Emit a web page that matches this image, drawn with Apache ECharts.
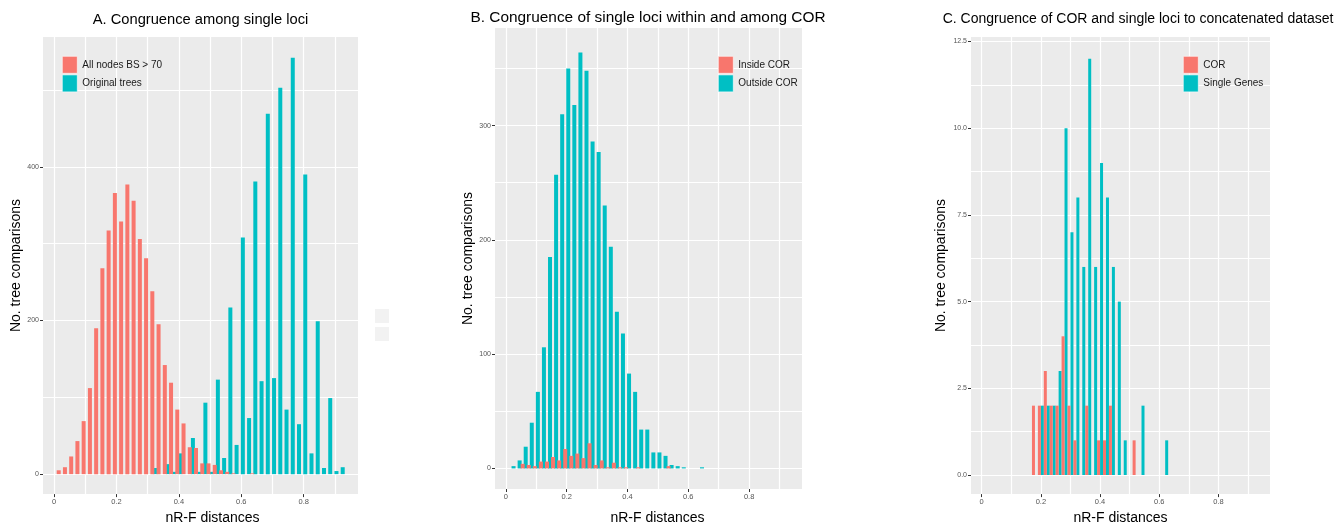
<!DOCTYPE html>
<html><head><meta charset="utf-8">
<script src="https://cdn.jsdelivr.net/npm/echarts@6/dist/echarts.min.js"></script>
<style>html,body{margin:0;padding:0;background:#fff}#c{width:1338px;height:530px}</style>
</head><body><div id="c"></div>
<script>
// ---------- data ----------
const xTickValues = [0, 0.2, 0.4, 0.6, 0.8];
const xGridValues = [0, 0.1, 0.2, 0.3, 0.4, 0.5, 0.6, 0.7, 0.8, 0.9];

// Panel A: Congruence among single loci (bin centres, counts)
const aRedBins = [0.02,0.04,0.06,0.08,0.10,0.12,0.14,0.16,0.18,0.20,0.22,0.24,0.26,0.28,0.30,0.32,0.34,0.36,0.38,0.40,0.42,0.44,0.46,0.48,0.50,0.52,0.54,0.56,0.58,0.64];
const aRedCounts = [5,9,23,43,69,112,190,268,317,366,329,377,356,306,281,238,195,142,119,84,66,35,34,14,14,12,5,3,1,1];
const aTealBins = [0.32,0.36,0.38,0.40,0.44,0.46,0.48,0.50,0.52,0.54,0.56,0.58,0.60,0.62,0.64,0.66,0.68,0.70,0.72,0.74,0.76,0.78,0.80,0.82,0.84,0.86,0.88,0.90,0.92];
const aTealCounts = [8,13,3,27,47,3,93,3,123,21,217,38,308,73,381,121,469,125,503,84,542,65,390,27,199,8,99,4,9];
const aYGrid = [0,100,200,300,400,500];
const aYTicks = [0,200,400];

// Panel B: Congruence of single loci within and among COR
const bRedBins = [0.06,0.08,0.10,0.12,0.14,0.16,0.18,0.20,0.22,0.24,0.26,0.28,0.30,0.32,0.34,0.36,0.38,0.40,0.44,0.54];
const bRedCounts = [4,3,2,6,6,10,7,17,11,13,9,22,3,7,1,5,1,1,1,2];
const bTealBins = [0.02,0.04,0.06,0.08,0.10,0.12,0.14,0.16,0.18,0.20,0.22,0.24,0.26,0.28,0.30,0.32,0.34,0.36,0.38,0.40,0.42,0.44,0.46,0.48,0.50,0.52,0.54,0.56,0.58,0.64];
const bTealCounts = [2,7,19,40,67,106,185,257,310,350,318,364,348,286,277,230,194,137,118,83,67,34,34,14,14,11,3,2,1,1];
const bYGrid = [0,50,100,150,200,250,300,350];
const bYTicks = [0,100,200,300];

// Panel C: Congruence of COR and single loci to concatenated dataset
const cRedBins = [0.18,0.20,0.22,0.24,0.26,0.28,0.30,0.32,0.36,0.40,0.42,0.44,0.52];
const cRedCounts = [2,2,3,2,2,4,2,1,2,1,1,2,1];
const cTealBins = [0.20,0.22,0.24,0.26,0.28,0.30,0.32,0.34,0.36,0.38,0.40,0.42,0.44,0.46,0.48,0.54,0.62];
const cTealCounts = [2,2,2,3,10,7,8,6,12,6,9,8,6,5,1,2,1];
const cYGrid = [0,1.25,2.5,3.75,5,6.25,7.5,8.75,10,11.25,12.5];
const cYTicks = [0,2.5,5,7.5,10,12.5];

// ---------- styling / layout ----------
const RED = '#F8766D', TEAL = '#00BFC4';
const FONT = 'Liberation Sans, Arial, Helvetica, sans-serif';
const DODGE = 0.005;
const panels = [
  {grid:{left:43, top:37, width:315, height:458}, xr:[-0.0353,0.974], yr:[-26,569], yGrid:aYGrid, yTicks:aYTicks, yFmt:v=>String(v),
   red:['All nodes BS > 70', aRedBins, aRedCounts], teal:['Original trees', aTealBins, aTealCounts], bw:4, xGap:16, xShift:24, yGap:20, legLeft:62},
  {grid:{left:495, top:28, width:307, height:461}, xr:[-0.036,0.974], yr:[-18,385.4], yGrid:bYGrid, yTicks:bYTicks, yFmt:v=>String(v),
   red:['Inside COR', bRedBins, bRedCounts], teal:['Outside COR', bTealBins, bTealCounts], bw:4, xGap:22, xShift:18, yGap:19, legLeft:718},
  {grid:{left:971, top:37, width:299, height:458}, xr:[-0.036,0.974], yr:[-0.55,12.63], yGrid:cYGrid, yTicks:cYTicks, yFmt:v=>v.toFixed(1),
   red:['COR', cRedBins, cRedCounts], teal:['Single Genes', cTealBins, cTealCounts], bw:3, xGap:16, xShift:0, yGap:23, legLeft:1183}
];

const grid=[], xAxis=[], yAxis=[], series=[], legend=[];
panels.forEach((p,i)=>{
  grid.push(Object.assign({show:true, backgroundColor:'#EBEBEB', borderWidth:0, containLabel:false}, p.grid));
  xAxis.push({type:'value', gridIndex:i, min:p.xr[0], max:p.xr[1], position:'bottom',
    axisLine:{show:false, onZero:false}, axisTick:{show:false, customValues:xGridValues}, axisLabel:{show:false},
    splitLine:{show:true, lineStyle:{color:'#fff', width:1.2}}});
  xAxis.push({type:'value', gridIndex:i, min:p.xr[0], max:p.xr[1], position:'bottom', offset:0,
    name:'nR-F distances', nameLocation:'middle', nameGap:p.xGap,
    nameTextStyle:{fontSize:14, color:'#000', fontFamily:FONT, padding:[0,0,0,p.xShift]},
    axisLine:{show:false, onZero:false}, axisTick:{show:true, length:3, customValues:xTickValues, lineStyle:{color:'#333', width:1}},
    axisLabel:{show:true, customValues:xTickValues, fontSize:7.5, color:'#555', margin:4, fontFamily:FONT, formatter:v=>String(v)},
    splitLine:{show:false}});
  yAxis.push({type:'value', gridIndex:i, min:p.yr[0], max:p.yr[1], position:'left',
    axisLine:{show:false, onZero:false}, axisTick:{show:false, customValues:p.yGrid}, axisLabel:{show:false},
    splitLine:{show:true, lineStyle:{color:'#fff', width:1.2}}});
  yAxis.push({type:'value', gridIndex:i, min:p.yr[0], max:p.yr[1], position:'left', offset:0,
    name:'No. tree comparisons', nameLocation:'middle', nameGap:p.yGap,
    nameTextStyle:{fontSize:14, color:'#000', fontFamily:FONT},
    axisLine:{show:false, onZero:false}, axisTick:{show:true, length:3, customValues:p.yTicks, lineStyle:{color:'#333', width:1}},
    axisLabel:{show:true, customValues:p.yTicks, fontSize:7, color:'#555', margin:4, fontFamily:FONT, formatter:p.yFmt},
    splitLine:{show:false}});
  // teal drawn first, red on top (as in the reference)
  [[p.teal, TEAL, DODGE],[p.red, RED, -DODGE]].forEach(([s,col,off])=>{
    series.push({type:'bar', name:s[0], xAxisIndex:2*i, yAxisIndex:2*i, barWidth:p.bw, barGap:'-100%',
      itemStyle:{color:col}, emphasis:{disabled:true}, animation:false,
      data:s[1].map((b,k)=>[+(b+off).toFixed(4), s[2][k]])});
  });
  legend.push({data:[p.red[0], p.teal[0]], orient:'vertical', left:p.legLeft, top:56, padding:0,
    itemWidth:15, itemHeight:17, itemGap:1, icon:'rect', selectedMode:false,
    itemStyle:{borderColor:'#fff', borderWidth:0.6},
    textStyle:{fontSize:10, color:'#1a1a1a', fontFamily:FONT}});
});

const titleStyle = {fill:'#000', fontFamily:FONT, textAlign:'center', textVerticalAlign:'middle'};
const chart = echarts.init(document.getElementById('c'), null, {renderer:'canvas'});
chart.setOption({
  animation:false,
  grid, xAxis, yAxis, series, legend,
  graphic:[
    {type:'text', x:200.5, y:20, style:Object.assign({text:'A. Congruence among single loci', fontSize:14.7}, titleStyle)},
    {type:'text', x:648, y:18, style:Object.assign({text:'B. Congruence of single loci within and among COR', fontSize:15.4}, titleStyle)},
    {type:'text', x:1138, y:19, style:Object.assign({text:'C. Congruence of COR and single loci to concatenated dataset', fontSize:14}, titleStyle)},
    {type:'rect', shape:{x:375, y:309, width:14, height:14}, style:{fill:'#F2F2F2'}},
    {type:'rect', shape:{x:375, y:327, width:14, height:14}, style:{fill:'#F2F2F2'}}
  ]
});
</script></body></html>
